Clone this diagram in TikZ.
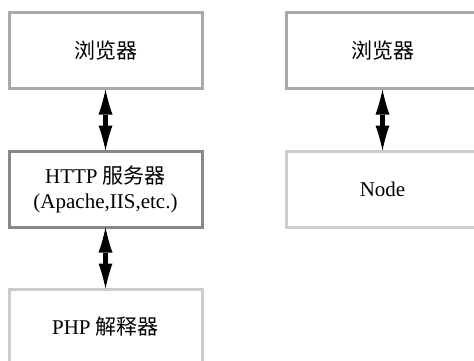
\documentclass[tikz,border=0pt]{standalone}
\usepackage{fontspec}
\setmainfont{Liberation Serif}
\newfontfamily\cjk{Noto Sans CJK SC}
\usetikzlibrary{arrows.meta,positioning}
\definecolor{midgray}{HTML}{AAAAAA}
\definecolor{darkgray}{HTML}{888888}
\definecolor{lightgray}{HTML}{CCCCCC}
\tikzstyle{state}=[draw=midgray, line width=3pt, fill=white, align=center,
  minimum width=193pt, minimum height=76pt, inner sep=0pt]

\begin{document}
\begin{tikzpicture}[node distance=59pt,auto,x=1pt,y=1pt,
    >={Latex[length=25pt,width=14pt,line width=0pt]},font=\fontsize{21}{25}\selectfont]
  \useasboundingbox (0,0) rectangle (474,-361);
  \clip (0,0) rectangle (474,-361);
  % PHP
  \node [state] (br1) at (105.5,-51) {{\cjk 浏览器}};
  \node [state,draw=darkgray] (http) [below=of br1] {HTTP {\cjk 服务器}\\(Apache,IIS,etc.)};
  \node [state,draw=lightgray] (php) [below=of http] {PHP {\cjk 解释器}};
  % Node
  \node [state] (br2) at (382.5,-51) {{\cjk 浏览器}};
  \node [state,draw=lightgray] (nd) [below=of br2] {Node};
  \path[<->,line width=5pt,shorten <=-1pt,shorten >=-1pt]
    (br1) edge (http)
    (http) edge (php)
    (br2) edge (nd);
\end{tikzpicture}
\end{document}
